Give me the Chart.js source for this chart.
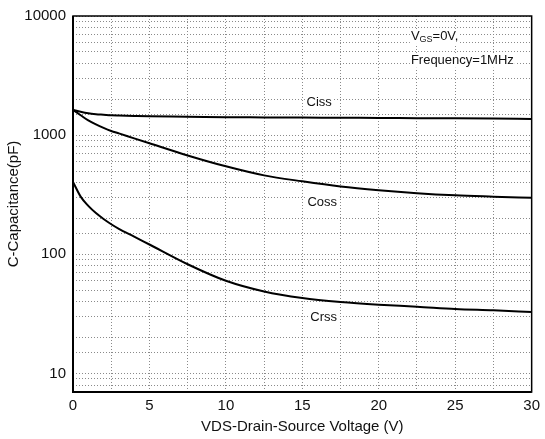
<!DOCTYPE html>
<html>
<head>
<meta charset="utf-8">
<script src="https://cdn.jsdelivr.net/npm/chart.js@4"></script>
<style>
  html, body { margin: 0; padding: 0; background: #fff; }
  #wrap { width: 545px; height: 439px; }
</style>
</head>
<body>
<div id="wrap"><canvas id="capChart"></canvas></div>
<script>
// chart data
const voltage = [0, 0.5, 1, 1.5, 2, 2.5, 3, 4, 5, 7.5, 10, 12.5, 15, 17.5, 20, 22.5, 25, 27.5, 30];
const ciss = [1630, 1570, 1525, 1500, 1485, 1470, 1462, 1450, 1440, 1430, 1415, 1410, 1405, 1400, 1395, 1390, 1385, 1378, 1370];
const coss = [1630, 1470, 1330, 1230, 1150, 1085, 1035, 940, 855, 676, 548, 460, 410, 371, 345, 326, 313, 305, 298];
const crss = [405, 305, 255, 222, 198, 179, 164, 141, 121, 82.6, 60, 48.8, 43, 39.8, 37.8, 36.4, 34.8, 33.9, 32.8];
const xTicks = [0, 5, 10, 15, 20, 25, 30];
const yTicks = [10, 100, 1000, 10000];

const FONT = "'Liberation Sans', Arial, sans-serif";

// curve names + test conditions, placed in data units
const curveLabels = [
    { text: 'Ciss', x: 16.1, y: 1875 },
    { text: 'Coss', x: 16.3, y: 274 },
    { text: 'Crss', x: 16.4, y: 29.4 }
];

const toPoints = (arr) => voltage.map((v, i) => ({ x: v, y: arr[i] }));

const lineStyle = {
    type: 'line',
    borderColor: '#000',
    borderWidth: 2,
    pointRadius: 0,
    fill: false,
    cubicInterpolationMode: 'monotone'
};

// frame around plot + text labels with white boxes
const annotate = {
    id: 'annotate',
    afterDatasetsDraw(chart) {
        const { ctx, chartArea: a, scales: { x, y } } = chart;
        ctx.save();
        ctx.font = '13px ' + FONT;
        ctx.textBaseline = 'middle';
        ctx.textAlign = 'center';
        curveLabels.forEach(l => {
            const px = x.getPixelForValue(l.x);
            const py = y.getPixelForValue(l.y);
            const w = ctx.measureText(l.text).width;
            ctx.fillStyle = '#fff';
            ctx.fillRect(px - w / 2 - 1, py - 7, w + 2, 14);
            ctx.fillStyle = '#111';
            ctx.fillText(l.text, px, py);
        });

        // V_GS=0V, / Frequency=1MHz
        ctx.textAlign = 'left';
        const lx = x.getPixelForValue(22.1);
        const y1 = y.getPixelForValue(6800);
        const y2 = y.getPixelForValue(4210);
        ctx.font = '13px ' + FONT;
        const wV = ctx.measureText('V').width;
        ctx.font = '9px ' + FONT;
        const wGS = ctx.measureText('GS').width;
        ctx.font = '13px ' + FONT;
        const wRest = ctx.measureText('=0V,').width;
        const wFreq = ctx.measureText('Frequency=1MHz').width;
        ctx.fillStyle = '#fff';
        ctx.fillRect(lx - 1, y1 - 7, wV + wGS + wRest + 2, 15);
        ctx.fillRect(lx - 1, y2 - 7, wFreq + 2, 14);
        ctx.fillStyle = '#111';
        ctx.fillText('V', lx, y1);
        ctx.font = '9px ' + FONT;
        ctx.fillText('GS', lx + wV, y1 + 4);
        ctx.font = '13px ' + FONT;
        ctx.fillText('=0V,', lx + wV + wGS, y1);
        ctx.fillText('Frequency=1MHz', lx, y2);

        // box
        ctx.strokeStyle = '#000';
        ctx.lineWidth = 1.5;
        ctx.strokeRect(a.left, a.top, a.right - a.left, a.bottom - a.top);
        ctx.lineWidth = 2;
        ctx.beginPath();
        ctx.moveTo(a.left, a.top);
        ctx.lineTo(a.left, a.bottom);
        ctx.lineTo(a.right, a.bottom);
        ctx.stroke();
        ctx.restore();
    }
};

const ctx = document.getElementById('capChart').getContext('2d');

new Chart(ctx, {
    data: {
        datasets: [
            { ...lineStyle, label: 'Ciss', data: toPoints(ciss) },
            { ...lineStyle, label: 'Coss', data: toPoints(coss) },
            { ...lineStyle, label: 'Crss', data: toPoints(crss) }
        ]
    },
    options: {
        responsive: true,
        maintainAspectRatio: false,
        animation: false,
        layout: { padding: { top: 14, right: 8, left: 0, bottom: 0 } },
        scales: {
            x: {
                type: 'linear',
                min: 0,
                max: 30,
                afterFit: (s) => { s.height = 47; },
                ticks: {
                    stepSize: 2.5,
                    autoSkip: false,
                    maxRotation: 0,
                    padding: 5,
                    color: '#111',
                    font: { family: FONT, size: 15 },
                    callback: (v) => xTicks.includes(v) ? String(v) : ''
                },
                grid: { color: '#8a8a8a', lineWidth: 1, drawTicks: false },
                border: { display: false, dash: [1, 2] },
                title: {
                    display: true,
                    text: 'VDS-Drain-Source Voltage (V)',
                    color: '#111',
                    font: { family: FONT, size: 15 },
                    padding: { top: 0, bottom: 3 }
                }
            },
            y: {
                type: 'logarithmic',
                min: 7,
                max: 10000,
                afterFit: (s) => { s.width = 73; },
                ticks: {
                    autoSkip: false,
                    padding: 7,
                    color: '#111',
                    font: { family: FONT, size: 15 },
                    callback: (v) => yTicks.includes(v) ? String(v) : ''
                },
                grid: { color: '#8a8a8a', lineWidth: 1, drawTicks: false },
                border: { display: false, dash: [1, 2] },
                title: {
                    display: true,
                    text: 'C-Capacitance(pF)',
                    color: '#111',
                    font: { family: FONT, size: 15 },
                    padding: { top: 5, bottom: 0 }
                }
            }
        },
        plugins: {
            legend: { display: false },
            tooltip: { enabled: false }
        }
    },
    plugins: [annotate]
});
</script>
</body>
</html>
